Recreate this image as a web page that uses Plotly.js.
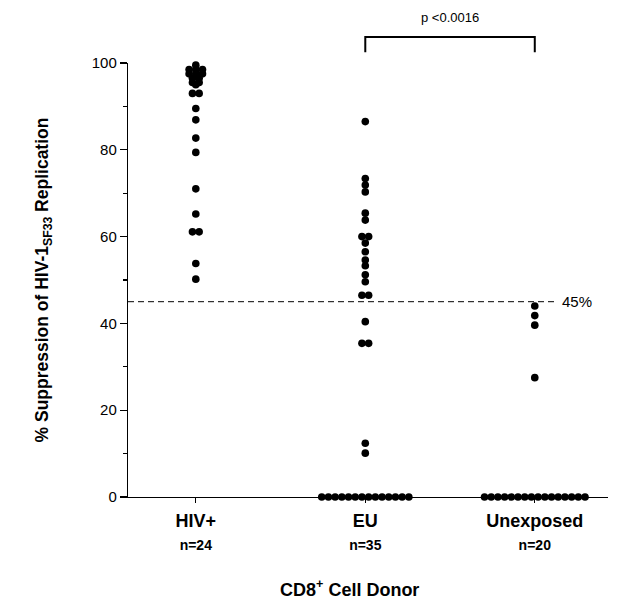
<!DOCTYPE html>
<html>
<head>
<meta charset="utf-8">
<script src="https://cdn.plot.ly/plotly-3.0.1.min.js"></script>
<style>html,body{margin:0;padding:0;background:#fff;}#chart{width:630px;height:603px;}</style>
</head>
<body>
<div id="chart"></div>
<script>
// ---- data ----
const categories = ['HIV+', 'EU', 'Unexposed'];
const groupCounts = [24, 35, 20];
const hivValues = [99.5, 98.5, 98.5, 98.5, 97.5, 97.5, 97.5, 96.5, 96.5, 95.5, 95.5, 95,
                   93, 93, 89.5, 86.9, 82.7, 79.4, 71.0, 65.2, 61.1, 61.1, 53.8, 50.2];
const euValues = [86.5, 73.4, 71.9, 70.3, 65.4, 63.8, 60, 60, 58.5, 56.5, 54.6, 53.3, 51.2,
                  49.6, 46.5, 46.5, 40.4, 35.4, 35.4, 12.4, 10.1,
                  0, 0, 0, 0, 0, 0, 0, 0, 0, 0, 0, 0, 0, 0];
const unexposedValues = [44.0, 41.8, 39.6, 27.5,
                         0, 0, 0, 0, 0, 0, 0, 0, 0, 0, 0, 0, 0, 0, 0, 0];
const thresholdValue = 45;
const pValueText = 'p <0.0016';

// ---- layout geometry ----
const W = 630, H = 603;
const margin = {l: 128, r: 22, t: 63, b: 106};
const xRange = [-0.4, 2.432];
const plotW = W - margin.l - margin.r;
const pxPerUnit = plotW / (xRange[1] - xRange[0]);
const dotGapPx = 6.7;
const dx = dotGapPx / pxPerUnit;

// spread identical values horizontally, centred on the category
function spread(values, idx) {
  const groups = {};
  values.forEach(v => { (groups[v] = groups[v] || []).push(v); });
  const xs = [], ys = [];
  Object.keys(groups).forEach(k => {
    const g = groups[k];
    g.forEach((v, i) => {
      xs.push(idx + (i - (g.length - 1) / 2) * dx);
      ys.push(v);
    });
  });
  return {xs, ys};
}

const allValues = [hivValues, euValues, unexposedValues];
const traces = allValues.map((vals, i) => {
  const s = spread(vals, i);
  return {
    type: 'scatter', mode: 'markers', x: s.xs, y: s.ys,
    marker: {color: '#000', size: 7.6, line: {width: 0}},
    cliponaxis: false, showlegend: false, hoverinfo: 'y'
  };
});

const toPaperX = v => (v - xRange[0]) / (xRange[1] - xRange[0]);
const font = 'Arial, "Liberation Sans", Helvetica, sans-serif';

const tickText = categories.map((c, i) =>
  '<b>' + c + '</b><br><b><span style="font-size:14px">n=' + groupCounts[i] + '</span></b>');

const layout = {
  width: W, height: H,
  margin: margin,
  paper_bgcolor: '#fff', plot_bgcolor: '#fff',
  font: {family: font, color: '#000'},
  showlegend: false,
  xaxis: {
    range: xRange, tickmode: 'array', tickvals: [0, 1, 2], ticktext: tickText,
    showgrid: false, zeroline: false, showline: true, linecolor: '#000', linewidth: 1.2,
    ticks: 'outside', ticklen: 5, tickcolor: '#000', tickwidth: 1.2,
    ticklabelstandoff: 2,
    tickfont: {size: 18, family: font, color: '#000'},
    fixedrange: true
  },
  yaxis: {
    range: [0, 100], tickmode: 'array', tickvals: [0, 20, 40, 60, 80, 100],
    showgrid: false, zeroline: false, showline: true, linecolor: '#000', linewidth: 1.2,
    ticks: 'outside', ticklen: 7, tickcolor: '#000', tickwidth: 1.2,
    minor: {tickvals: [10, 30, 50, 70, 90], ticks: 'outside', ticklen: 4, tickcolor: '#000', tickwidth: 1.2},
    tickfont: {size: 15, family: font, color: '#000'},
    title: {text: '<b>% Suppression of HIV-1<sub>SF33</sub> Replication</b>', font: {size: 17.5, family: font, color: '#000'}, standoff: 38},
    fixedrange: true
  },
  shapes: [
    {type: 'line', xref: 'paper', yref: 'y', x0: 0, x1: 0.89, y0: thresholdValue, y1: thresholdValue,
     line: {color: '#000', width: 1, dash: '6px,4px'}},
    {type: 'path', xref: 'paper', yref: 'paper',
     path: 'M ' + toPaperX(1) + ' 1.025 L ' + toPaperX(1) + ' 1.06 L ' + toPaperX(2) + ' 1.06 L ' + toPaperX(2) + ' 1.025',
     line: {color: '#000', width: 2}}
  ],
  annotations: [
    {xref: 'paper', yref: 'y', x: 0.9, y: thresholdValue, xanchor: 'left', yanchor: 'middle',
     text: thresholdValue + '%', showarrow: false, font: {size: 15, family: font, color: '#000'}},
    {xref: 'paper', yref: 'paper', x: (toPaperX(1) + toPaperX(2)) / 2, y: 1.06, yshift: 10, xanchor: 'center', yanchor: 'bottom',
     text: pValueText, showarrow: false, font: {size: 13, family: font, color: '#000'}},
    {xref: 'paper', yref: 'paper', x: (349 - margin.l) / plotW, y: 0, yshift: -91, xanchor: 'center', yanchor: 'middle',
     text: '<b>CD8<sup>+</sup> Cell Donor</b>', showarrow: false, font: {size: 18, family: font, color: '#000'}}
  ]
};

Plotly.newPlot('chart', traces, layout, {displayModeBar: false, staticPlot: true});
</script>
</body>
</html>
